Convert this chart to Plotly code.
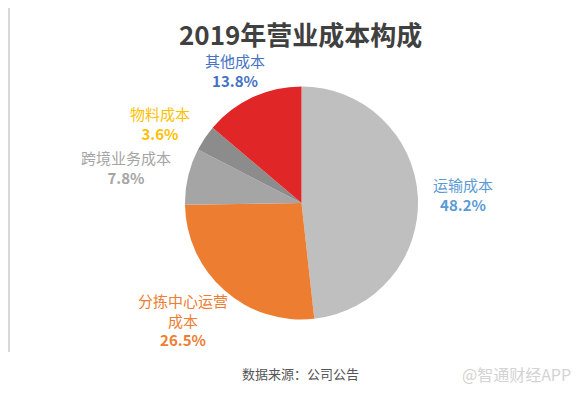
import plotly.graph_objects as go

categories = ["运输成本", "分拣中心运营成本", "跨境业务成本", "物料成本", "其他成本"]
values = [48.2, 26.5, 7.8, 3.6, 13.8]
slice_colors = ["#BFBFBF", "#ED7D31", "#A5A5A5", "#8C8C8C", "#E02626"]
label_colors = ["#5B9BD5", "#ED7D31", "#A5A5A5", "#FFC000", "#4472C4"]
label_lines = [["运输成本"], ["分拣中心运营", "成本"], ["跨境业务成本"], ["物料成本"], ["其他成本"]]
# label anchor positions in window pixels (center x, top y)
label_pos = [(463, 172), (183, 288), (126, 145), (160, 101), (235, 48)]

W, H = 579, 396
OX, OY = 8, 8  # page body margin offset
FONT = "Noto Sans CJK SC"


def px_x(x):
    return (x - OX) / W


def px_y(y):
    return 1 - (y - OY) / H


fig = go.Figure()
fig.add_trace(go.Pie(
    labels=categories, values=values, sort=False, direction="clockwise", rotation=0,
    marker=dict(colors=slice_colors, line=dict(width=0)),
    textinfo="none", hoverinfo="none", showlegend=False,
    domain=dict(x=[px_x(185), px_x(418)], y=[px_y(319.5), px_y(86.5)]),
))

annotations = []
for cat, val, col, lines, (px, py) in zip(categories, values, label_colors, label_lines, label_pos):
    txt = "<br>".join(lines) + "<br><b>%.1f%%</b>" % val
    annotations.append(dict(
        text=txt, x=px_x(px), y=px_y(py), xref="paper", yref="paper",
        xanchor="center", yanchor="top", showarrow=False, align="center",
        font=dict(family=FONT, size=15, color=col),
    ))

annotations.append(dict(
    text="<b>2019年营业成本构成</b>", x=px_x(301), y=px_y(33), xref="paper", yref="paper",
    xanchor="center", yanchor="middle", showarrow=False,
    font=dict(family=FONT, size=26, color="#404040"),
))
annotations.append(dict(
    text="数据来源：公司公告", x=px_x(300), y=px_y(373), xref="paper", yref="paper",
    xanchor="center", yanchor="middle", showarrow=False,
    font=dict(family=FONT, size=13, color="#555555"),
))
annotations.append(dict(
    text="@智通财经APP", x=px_x(516), y=px_y(374), xref="paper", yref="paper",
    xanchor="center", yanchor="middle", showarrow=False,
    font=dict(family=FONT, size=16, color="#D3D3D3"),
))

shapes = [
    dict(type="line", xref="paper", yref="paper", x0=px_x(9), x1=1, y0=px_y(5), y1=px_y(5),
         line=dict(color="#D9D9D9", width=2)),
    dict(type="line", xref="paper", yref="paper", x0=px_x(9), x1=px_x(9), y0=px_y(352), y1=px_y(5),
         line=dict(color="#D9D9D9", width=2)),
]

fig.update_layout(
    width=W, height=H, margin=dict(l=0, r=0, t=0, b=0),
    paper_bgcolor="white", plot_bgcolor="white",
    annotations=annotations, shapes=shapes,
)

fig.write_html("out.html")
